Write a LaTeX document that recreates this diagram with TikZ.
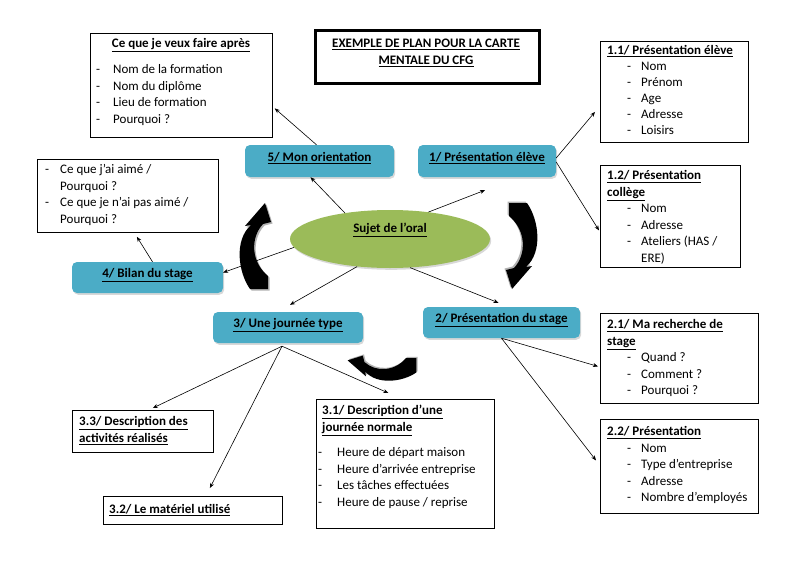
\documentclass[tikz,border=0pt]{standalone}
\usepackage{fontspec}
\setmainfont{Carlito}
\usetikzlibrary{arrows.meta,shapes.geometric,shadows,calc}
\definecolor{bluebox}{RGB}{75,172,198}
\definecolor{greenell}{RGB}{155,187,89}
\newcommand\ditem[3]{\hspace*{#1pt}\makebox[#2pt][l]{-}#3}
\newcommand\ulb[1]{\underline{\textbf{#1}}}
\def\curvpath{(-3,43) .. controls (-15,26) and (-19,-6) .. (-2,-21) -- (-8,-20) -- (12,-43) -- (18,-24) -- (10,-22) .. controls (-3,-8) and (-2,16) .. (15,30) -- (15,43) -- cycle}
\tikzset{
  curvarr/.pic={
    \fill[black!30, shift={(1.5,1.5)}] \curvpath;
    \fill[black] \curvpath;
  }
}
\begin{document}
\begin{tikzpicture}[x=1pt,y=-1pt,
  box/.style={draw=black, line width=0.8pt, fill=white, inner sep=0pt, anchor=north west},
  txt/.style={inner sep=0pt, anchor=north west, align=left, font={\fontsize{13}{16.5}\selectfont}},
  ttl/.style={inner sep=0pt, font={\fontsize{13}{16.5}\selectfont}},
  bluen/.style={fill=bluebox, rounded corners=5pt, inner sep=0pt,
    drop shadow={shadow xshift=1.2pt, shadow yshift=-1.8pt, opacity=0.3}},
  arr/.style={-{Stealth[length=5pt,width=4pt]}, line width=0.6pt}
]
\useasboundingbox (0,0) rectangle (800,565);
\fill[white] (0,0) rectangle (800,565);

% curved arrows
\pic (cal) at (253,246) {curvarr};
\pic[rotate=180] (car) at (524,246) {curvarr};
\pic[rotate=90, scale=0.8] (cab) at (382,370) {curvarr};

% title box
\node[box, line width=2.6pt, minimum width=224pt, minimum height=53pt] (T) at (314,29) {};
\node[ttl, align=center] (tT) at (426,53) {\ulb{EXEMPLE DE PLAN POUR LA CARTE}\\\ulb{MENTALE DU CFG}};

% box A
\node[box, minimum width=182pt, minimum height=104pt] (A) at (90,33) {};
\node[ttl] (tA) at (181,45) {\ulb{Ce que je veux faire après}};
\node[txt] (iA) at (96,62) {\strut\ditem{0}{17}{Nom de la formation}\\\ditem{0}{17}{Nom du diplôme}\\\ditem{0}{17}{Lieu de formation}\\\ditem{0}{17}{Pourquoi ?}};

% box 1.1
\node[box, minimum width=148pt, minimum height=101pt] (B11) at (600,41) {};
\node[txt, font={\fontsize{13}{16}\selectfont}] (tB11) at (607,43) {\strut\ulb{1.1/ Présentation élève}\\\ditem{20}{14}{Nom}\\\ditem{20}{14}{Prénom}\\\ditem{20}{14}{Age}\\\ditem{20}{14}{Adresse}\\\ditem{20}{14}{Loisirs}};

% box 1.2
\node[box, minimum width=140pt, minimum height=102pt] (B12) at (600,165) {};
\node[txt] (tB12) at (607,168) {\strut\ulb{1.2/ Présentation}\\\ulb{collège}\\\ditem{20}{14}{Nom}\\\ditem{20}{14}{Adresse}\\\ditem{20}{14}{Ateliers (HAS /}\\\hspace*{34pt}ERE)};

% box L
\node[box, minimum width=181pt, minimum height=73pt] (L) at (37,159) {};
\node[txt] (tL) at (45,162) {\strut\ditem{0}{15}{Ce que j’ai aimé /}\\\hspace*{15pt}Pourquoi ?\\\ditem{0}{15}{Ce que je n’ai pas aimé /}\\\hspace*{15pt}Pourquoi ?};

% box 2.1
\node[box, minimum width=158pt, minimum height=90pt] (B21) at (600,313) {};
\node[txt] (tB21) at (607,317) {\strut\ulb{2.1/ Ma recherche de}\\\ulb{stage}\\\ditem{20}{14}{Quand ?}\\\ditem{20}{14}{Comment ?}\\\ditem{20}{14}{Pourquoi ?}};

% box 2.2
\node[box, minimum width=158pt, minimum height=94pt] (B22) at (600,419) {};
\node[txt] (tB22) at (607,424) {\strut\ulb{2.2/ Présentation}\\\ditem{20}{14}{Nom}\\\ditem{20}{14}{Type d’entreprise}\\\ditem{20}{14}{Adresse}\\\ditem{20}{14}{Nombre d’employés}};

% box 3.1
\node[box, minimum width=178pt, minimum height=129pt] (B31) at (316,399) {};
\node[txt] (tB31) at (322,403) {\strut\ulb{3.1/ Description d’une}\\\ulb{journée normale}};
\node[txt] (iB31) at (318,445) {\strut\ditem{0}{19}{Heure de départ maison}\\\ditem{0}{19}{Heure d’arrivée entreprise}\\\ditem{0}{19}{Les tâches effectuées}\\\ditem{0}{19}{Heure de pause / reprise}};

% box 3.3
\node[box, minimum width=141pt, minimum height=42pt] (B33) at (72,410) {};
\node[txt] (tB33) at (79,414) {\strut\ulb{3.3/ Description des}\\\ulb{activités réalisés}};

% box 3.2
\node[box, minimum width=179pt, minimum height=28pt] (B32) at (103,496) {};
\node[ttl, anchor=west] (tB32) at (109,510) {\ulb{3.2/ Le matériel utilisé}};

% blue nodes
\node[bluen, minimum width=149pt, minimum height=32pt] (b5) at (319.5,161) {};
\node[ttl] (tb5) at (319.5,158) {\ulb{5/ Mon orientation}};
\node[bluen, minimum width=138pt, minimum height=32pt] (b1) at (487,161) {};
\node[ttl] (tb1) at (487,158) {\ulb{1/ Présentation élève}};
\node[bluen, minimum width=151pt, minimum height=31pt] (b4) at (147.5,277.5) {};
\node[ttl] (tb4) at (147.5,275) {\ulb{4/ Bilan du stage}};
\node[bluen, minimum width=150pt, minimum height=31pt] (b3) at (288,327.5) {};
\node[ttl] (tb3) at (288,325) {\ulb{3/ Une journée type}};
\node[bluen, minimum width=157pt, minimum height=31pt] (b2) at (501.5,322.5) {};
\node[ttl] (tb2) at (501.5,320) {\ulb{2/ Présentation du stage}};

% ellipse
\node[ellipse, fill=greenell, minimum width=200pt, minimum height=58pt, inner sep=0pt,
  drop shadow={shadow xshift=1.2pt, shadow yshift=-1.8pt, opacity=0.3}] (E) at (390,239) {};
\node[ttl] (tE) at (390,230) {\ulb{Sujet de l’oral}};

% connectors
\draw[arr] ([xshift=-3pt]b5.north) -- ([xshift=2pt,yshift=-23pt]A.east);
\draw[arr] (E.150) -- ([xshift=-9pt]b5.south);
\draw[arr] (E.35) -- ([xshift=-2pt,yshift=-13pt]b1.south);
\draw[arr] ([yshift=3pt]b1.east) -- ([xshift=-5pt,yshift=-20pt]B11.west);
\draw[arr] ([yshift=-1pt]b1.east) -- ([xshift=-1pt,yshift=-14pt]B12.west);
\draw[arr] (E.185) -- ([yshift=5pt]b4.east);
\draw[arr] ([xshift=5pt]b4.north) -- ([xshift=9pt,yshift=-4pt]L.south);
\draw[arr] (E.220) -- ([xshift=2pt,yshift=7pt]b3.north);
\draw[arr] (E.305) -- ([xshift=-3pt,yshift=4pt]b2.north);
\draw[arr] (b2.south) -- ([xshift=-2pt,yshift=-8pt]B21.west);
\draw[arr] (b2.south) -- ([xshift=-4pt,yshift=6pt]B22.west);
\draw[arr] ([xshift=-6pt,yshift=-3pt]b3.south) -- ([xshift=10pt,yshift=2pt]B33.north);
\draw[arr] ([xshift=-6pt,yshift=-3pt]b3.south) -- ([xshift=17pt,yshift=8pt]B32.north);
\draw[arr] ([xshift=-6pt,yshift=-3pt]b3.south) -- ([xshift=-17pt,yshift=6pt]B31.north);
\end{tikzpicture}
\end{document}
